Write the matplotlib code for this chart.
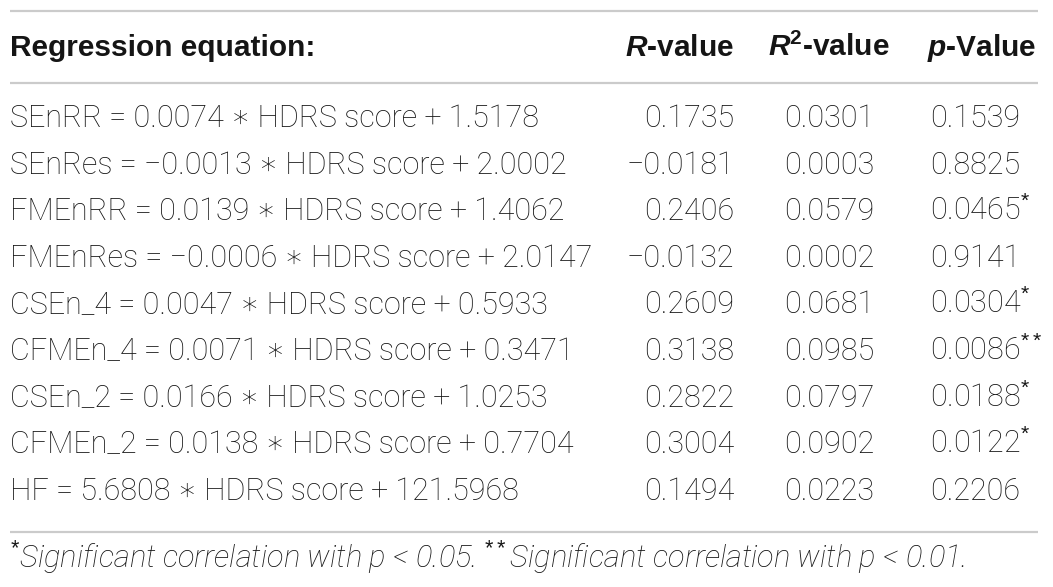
import matplotlib
matplotlib.use('Agg')
import matplotlib.pyplot as plt

# Table values
names = ['SEnRR', 'SEnRes', 'FMEnRR', 'FMEnRes', 'CSEn_4', 'CFMEn_4',
         'CSEn_2', 'CFMEn_2', 'HF']
slopes = ['0.0074', '\u22120.0013', '0.0139', '\u22120.0006', '0.0047',
          '0.0071', '0.0166', '0.0138', '5.6808']
intercepts = ['1.5178', '2.0002', '1.4062', '2.0147', '0.5933',
              '0.3471', '1.0253', '0.7704', '121.5968']
r_values = ['0.1735', '\u22120.0181', '0.2406', '\u22120.0132', '0.2609',
            '0.3138', '0.2822', '0.3004', '0.1494']
r2_values = ['0.0301', '0.0003', '0.0579', '0.0002', '0.0681',
             '0.0985', '0.0797', '0.0902', '0.0223']
p_values = ['0.1539', '0.8825', '0.0465', '0.9141', '0.0304',
            '0.0086', '0.0188', '0.0122', '0.2206']
stars = ['', '', '*', '', '*', '**', '*', '*', '']

plt.rcParams['mathtext.fontset'] = 'custom'
plt.rcParams['mathtext.rm'] = 'Liberation Sans'
plt.rcParams['mathtext.it'] = 'Liberation Sans'
plt.rcParams['mathtext.bf'] = 'Liberation Sans:bold'
plt.rcParams['mathtext.bfit'] = 'Liberation Sans:italic:bold'
plt.rcParams['mathtext.default'] = 'rm'

txt = '#151515'
line_c = '#cbcbcb'
fam = ['Roboto', 'DejaVu Sans']
head_fam = ['Liberation Sans', 'DejaVu Sans']
fs = 22
hfs = 21.5

fig = plt.figure(figsize=(10.53, 5.87), dpi=100)
ax = fig.add_axes([0, 0, 1, 1])
ax.set_xlim(0, 1053)
ax.set_ylim(587, 0)
ax.axis('off')

# rules
for y in [11, 83, 532]:
    ax.plot([10, 1038], [y, y], color=line_c, lw=1.6, solid_capstyle='butt')

x_eq, x_r, x_r2, x_p = 10, 734, 829, 930

# header
hy = 56
ax.text(x_eq, hy, 'Regression equation:', family=head_fam, weight='bold',
        fontsize=hfs, color=txt, va='baseline', ha='left')
ax.text(x_r, hy, r'$\mathbfit{R}$-value', family=head_fam, weight='bold',
        fontsize=hfs, color=txt, va='baseline', ha='right')
ax.text(x_r2, hy, r'$\mathbfit{R}^{\mathbf{2}}$-value', family=head_fam,
        weight='bold', fontsize=hfs, color=txt, va='baseline', ha='center')
ax.text(x_p - 3, hy, r'$\mathbfit{p}$-Value', family=head_fam, weight='bold',
        fontsize=hfs, color=txt, va='baseline', ha='left')

# body rows
for i, name in enumerate(names):
    y = 127 + 46.6 * i
    eq = f'{name} = {slopes[i]} \u2217 HDRS score + {intercepts[i]}'
    ax.text(x_eq, y, eq, family=fam, weight='light', fontsize=fs,
            color=txt, va='baseline', ha='left')
    ax.text(x_r, y, r_values[i], family=fam, weight='light', fontsize=fs,
            color=txt, va='baseline', ha='right')
    ax.text(x_r2, y, r2_values[i], family=fam, weight='light', fontsize=fs,
            color=txt, va='baseline', ha='center')
    ptxt = p_values[i] + (f'$^{{{stars[i]}}}$' if stars[i] else '')
    ax.text(x_p, y, ptxt, family=fam, weight='light', fontsize=fs,
            color=txt, va='baseline', ha='left')

# footnote
note = (r'$^{*}$Significant correlation with p < 0.05. '
        r'$^{**}$Significant correlation with p < 0.01.')
ax.text(x_eq, 568, note, family=fam, weight='light', style='italic',
        fontsize=22.2, color=txt, va='baseline', ha='left')

fig.savefig('out.png', dpi=100)
